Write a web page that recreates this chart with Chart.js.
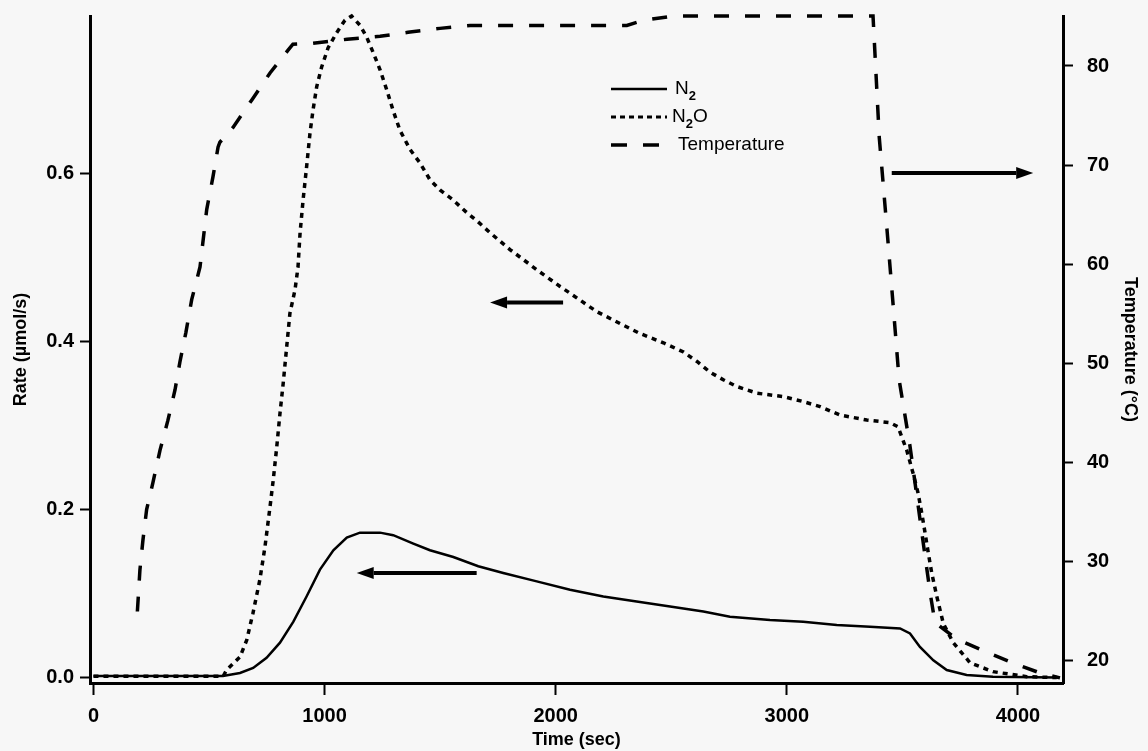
<!DOCTYPE html>
<html>
<head>
<meta charset="utf-8">
<script src="https://cdn.jsdelivr.net/npm/chart.js@4"></script>
<style>
body { margin: 0; background: #f7f7f7; }
#wrap { width: 1148px; height: 751px; position: relative; }
</style>
</head>
<body>
<div id="wrap"><canvas id="rate-chart"></canvas></div>
<script>
// values
const n2Time = [0, 300, 560, 634, 691, 749, 807, 865, 922, 980, 1038, 1096, 1153, 1240, 1297, 1384, 1456, 1557, 1665, 1773, 1918, 2062, 2206, 2350, 2495, 2639, 2754, 2927, 3071, 3216, 3360, 3490, 3533, 3576, 3634, 3692, 3778, 3892, 4168];
const n2Rate = [0.0024, 0.0024, 0.0024, 0.006, 0.012, 0.024, 0.042, 0.067, 0.097, 0.129, 0.152, 0.167, 0.173, 0.173, 0.170, 0.160, 0.152, 0.144, 0.133, 0.125, 0.115, 0.105, 0.097, 0.091, 0.085, 0.079, 0.073, 0.069, 0.067, 0.063, 0.061, 0.059, 0.053, 0.037, 0.021, 0.0095, 0.0036, 0.0015, 0.0006];

const n2oTime = [0, 300, 561, 576, 634, 663, 690, 720, 742, 764, 778, 793, 807, 821, 836, 850, 872, 885, 894, 907, 922, 937, 950, 966, 987, 1015, 1052, 1088, 1117, 1153, 1182, 1211, 1240, 1269, 1296, 1326, 1370, 1413, 1456, 1499, 1556, 1615, 1664, 1716, 1802, 1918, 2019, 2062, 2178, 2278, 2365, 2466, 2553, 2610, 2668, 2725, 2783, 2870, 2984, 3071, 3144, 3230, 3346, 3446, 3481, 3519, 3546, 3568, 3584, 3598, 3612, 3627, 3649, 3677, 3720, 3793, 3892, 4038, 4168];
const n2oRate = [0.002, 0.002, 0.002, 0.0095, 0.025, 0.045, 0.077, 0.117, 0.156, 0.204, 0.236, 0.275, 0.315, 0.351, 0.394, 0.434, 0.462, 0.489, 0.530, 0.569, 0.608, 0.649, 0.676, 0.704, 0.727, 0.750, 0.768, 0.783, 0.788, 0.777, 0.763, 0.744, 0.724, 0.700, 0.676, 0.652, 0.629, 0.613, 0.593, 0.581, 0.569, 0.554, 0.543, 0.530, 0.510, 0.486, 0.466, 0.458, 0.436, 0.422, 0.410, 0.399, 0.388, 0.377, 0.364, 0.355, 0.347, 0.339, 0.335, 0.329, 0.323, 0.313, 0.307, 0.304, 0.299, 0.271, 0.244, 0.220, 0.196, 0.173, 0.149, 0.125, 0.097, 0.065, 0.042, 0.018, 0.0075, 0.0015, 0.0005];

const tempTime = [190, 201, 214, 230, 257, 288, 322, 353, 374, 400, 425, 461, 490, 517, 539, 547, 604, 686, 764, 842, 863, 950, 1097, 1240, 1361, 1499, 1629, 2308, 2378, 2508, 3373, 3400, 3432, 3454, 3486, 3533, 3584, 3620, 3641, 3735, 3865, 3979, 4095, 4182];
const tempValues = [24.9, 29.1, 32.1, 35.2, 37.9, 41.2, 44.2, 47.3, 50.1, 53.1, 56.4, 59.7, 65.5, 68.8, 71.8, 72.3, 73.8, 76.6, 79.3, 81.6, 82.2, 82.3, 82.7, 83.0, 83.4, 83.8, 84.1, 84.1, 84.6, 85.05, 85.05, 72.8, 63.9, 57.6, 48.3, 41.6, 32.9, 26.8, 23.8, 22.1, 20.8, 19.7, 18.7, 18.2];

const timeTicks = [0, 1000, 2000, 3000, 4000];
const rateTicks = [0, 0.2, 0.4, 0.6];
const tempTicks = [20, 30, 40, 50, 60, 70, 80];

// arrows pointing each curve to its axis
const arrowFrom = [1658, 2032, 3454];
const arrowTo = [1139, 1716, 4066];
const arrowLevel = [0.125, 0.447, 69.2];
const arrowAxis = ['y', 'y', 'yT'];

const FONT = '"Liberation Sans", Arial, sans-serif';

function pairs(xs, ys) {
    return xs.map((x, i) => ({ x: x, y: ys[i] }));
}

// pin axis sizes so the plot box lands where the scan has it
function pinBox(size) {
    return s => {
        if (s.isHorizontal()) s.height = size; else s.width = size;
        s.paddingTop = 0;
        s.paddingBottom = 0;
        s.paddingLeft = 0;
        s.paddingRight = 0;
    };
}

const arrowPlugin = {
    id: 'arrows',
    afterDatasetsDraw(chart) {
        const ctx = chart.ctx;
        const xs = chart.scales.x;
        ctx.save();
        ctx.fillStyle = '#000';
        ctx.strokeStyle = '#000';
        ctx.lineWidth = 4;
        for (let i = 0; i < arrowFrom.length; i++) {
            const ys = chart.scales[arrowAxis[i]];
            const x0 = xs.getPixelForValue(arrowFrom[i]);
            const x1 = xs.getPixelForValue(arrowTo[i]);
            const y = ys.getPixelForValue(arrowLevel[i]);
            const dir = x1 > x0 ? 1 : -1;
            const head = 17;
            ctx.beginPath();
            ctx.moveTo(x0, y);
            ctx.lineTo(x1 - dir * head, y);
            ctx.stroke();
            ctx.beginPath();
            ctx.moveTo(x1, y);
            ctx.lineTo(x1 - dir * head, y - 6);
            ctx.lineTo(x1 - dir * head, y + 6);
            ctx.closePath();
            ctx.fill();
        }
        ctx.restore();
    }
};

const legendPlugin = {
    id: 'figLegend',
    afterDraw(chart) {
        const ctx = chart.ctx;
        ctx.save();
        ctx.strokeStyle = '#000';
        ctx.fillStyle = '#000';
        ctx.textBaseline = 'middle';
        const rows = [
            { y: 89, dash: [], w: 2.5, parts: [['N', 0], ['2', 1]] },
            { y: 117, dash: [5, 4], w: 3, parts: [['N', 0], ['2', 1], ['O', 0]] },
            { y: 145, dash: [16, 16], w: 3.5, parts: [['Temperature', 0]] }
        ];
        const textX = [675, 672, 678];
        rows.forEach((r, i) => {
            ctx.setLineDash(r.dash);
            ctx.lineWidth = r.w;
            ctx.beginPath();
            ctx.moveTo(611, r.y);
            ctx.lineTo(667, r.y);
            ctx.stroke();
            let x = textX[i];
            r.parts.forEach(p => {
                if (p[1]) {
                    ctx.font = 'bold 13px ' + FONT;
                    ctx.fillText(p[0], x, r.y + 7);
                } else {
                    ctx.font = '19px ' + FONT;
                    ctx.fillText(p[0], x, r.y);
                }
                x += ctx.measureText(p[0]).width;
            });
        });
        ctx.restore();
    }
};

const tickFont = { family: FONT, size: 20, weight: 'bold' };
const titleStyle = { family: FONT, size: 18, weight: 'bold' };

new Chart(document.getElementById('rate-chart'), {
    type: 'line',
    data: {
        datasets: [
            {
                label: 'N2',
                data: pairs(n2Time, n2Rate),
                borderColor: '#000',
                borderWidth: 2.5,
                yAxisID: 'y'
            },
            {
                label: 'N2O',
                data: pairs(n2oTime, n2oRate),
                borderColor: '#000',
                borderWidth: 3.5,
                borderDash: [5, 5],
                yAxisID: 'y'
            },
            {
                label: 'Temperature',
                data: pairs(tempTime, tempValues),
                borderColor: '#000',
                borderWidth: 3.5,
                borderDash: [15, 16],
                yAxisID: 'yT'
            }
        ]
    },
    options: {
        responsive: true,
        maintainAspectRatio: false,
        animation: false,
        layout: { padding: { top: 16, left: 0, right: 0, bottom: 0 } },
        elements: { point: { radius: 0 }, line: { tension: 0 } },
        datasets: { line: { clip: false } },
        plugins: { legend: { display: false }, tooltip: { enabled: false } },
        scales: {
            x: {
                type: 'linear',
                min: -15,
                max: 4195,
                afterBuildTicks: s => { s.ticks = timeTicks.map(v => ({ value: v })); },
                afterFit: pinBox(68),
                ticks: { font: tickFont, color: '#000', padding: 9, maxRotation: 0, callback: v => String(v) },
                grid: { drawOnChartArea: false, tickLength: 12, tickWidth: 2, tickColor: '#000' },
                border: { width: 3, color: '#000' },
                title: { display: true, text: 'Time (sec)', color: '#000', font: titleStyle, padding: 0 }
            },
            y: {
                position: 'left',
                min: -0.006,
                max: 0.788,
                afterBuildTicks: s => { s.ticks = rateTicks.map(v => ({ value: v })); },
                afterFit: pinBox(90),
                ticks: { font: tickFont, color: '#000', padding: 6, callback: v => v.toFixed(1) },
                grid: { drawOnChartArea: false, tickLength: 10, tickWidth: 2, tickColor: '#000' },
                border: { width: 3, color: '#000' },
                title: { display: true, text: 'Rate (µmol/s)', color: '#000', font: titleStyle, padding: { top: 10, bottom: 0 } }
            },
            yT: {
                position: 'right',
                min: 17.68,
                max: 85.05,
                afterBuildTicks: s => { s.ticks = tempTicks.map(v => ({ value: v })); },
                afterFit: pinBox(85),
                ticks: { font: tickFont, color: '#000', padding: 14 },
                grid: { drawOnChartArea: false, tickLength: 10, tickWidth: 2, tickColor: '#000' },
                border: { width: 3, color: '#000' },
                title: { display: true, text: 'Temperature (°C)', color: '#000', font: titleStyle, padding: { top: 7, bottom: 0 } }
            }
        }
    },
    plugins: [arrowPlugin, legendPlugin]
});
</script>
</body>
</html>
